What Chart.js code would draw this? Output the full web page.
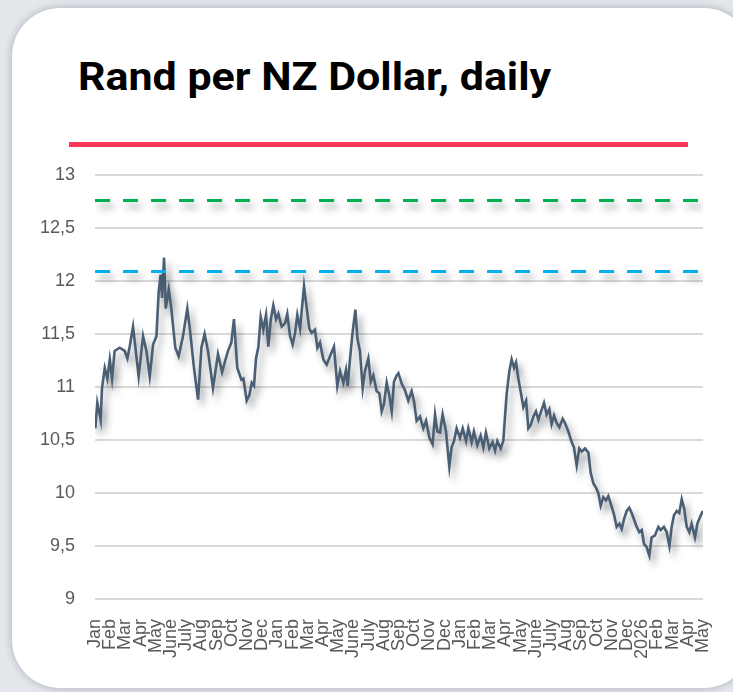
<!DOCTYPE html>
<html>
<head>
<meta charset="utf-8">
<script src="https://cdn.jsdelivr.net/npm/chart.js@4"></script>
<style>
  html, body { margin: 0; padding: 0; }
  body {
    width: 733px; height: 692px; overflow: hidden; position: relative;
    background: #e4e7eb;
    font-family: "Liberation Sans", Arial, sans-serif;
  }
  .card {
    position: absolute; left: 12px; top: 8px; width: 740px; height: 680px;
    background: #fff; border-radius: 48px;
    box-shadow: 0 0 9px rgba(60, 70, 85, 0.35);
  }
  .title {
    position: absolute; left: 78px; top: 55px;
    font-family: Roboto, "Liberation Sans", sans-serif; font-weight: 700;
    font-size: 38px; color: #000; white-space: nowrap;
    transform: scaleX(1.13); transform-origin: left top;
  }
  .redline {
    position: absolute; left: 69px; top: 142px; width: 619px; height: 5px;
    background: #ff3558;
  }
  #chart { position: absolute; left: 0; top: 0; }
</style>
</head>
<body>
<div class="card"></div>
<div class="title">Rand per NZ Dollar, daily</div>
<div class="redline"></div>
<canvas id="chart" width="733" height="692"></canvas>
<script>
// ================= Data =================
// x position in months from Jan (first year) = 0, May (last) = 40
const monthTicks = [
  'Jan','Feb','Mar','Apr','May','June','July','Aug','Sep','Oct','Nov','Dec',
  'Jan','Feb','Mar','Apr','May','June','July','Aug','Sep','Oct','Nov','Dec',
  'Jan','Feb','Mar','Apr','May','June','July','Aug','Sep','Oct','Nov','Dec',
  '2026','Feb','Mar','Apr','May'
];

const monthPos = [
  0,0.02,0.15,0.37,0.46,0.64,0.81,0.97,1.12,1.29,
  1.62,1.95,2.13,2.28,2.5,2.68,2.87,3.16,3.38,3.6,
  3.82,4.04,4.19,4.32,4.41,4.54,4.65,4.85,5.02,5.28,
  5.5,5.79,6.07,6.23,6.51,6.78,7,7.21,7.43,7.76,
  8.09,8.36,8.57,8.75,8.97,9.14,9.36,9.63,
  9.76,9.98,10.15,10.31,10.46,10.59,10.75,10.9,11.07,11.25,
  11.4,11.56,11.73,11.91,12.06,12.28,12.5,12.65,12.83,13,
  13.16,13.31,13.49,13.75,13.93,14.1,14.25,14.47,14.63,14.8,
  15.02,15.24,15.46,15.72,15.94,16.12,16.34,16.51,16.62,16.78,
  16.95,17.13,17.26,17.43,17.61,17.76,17.98,18.14,18.31,18.53,
  18.71,18.86,19.01,19.19,19.36,19.52,19.67,19.85,
  19.96,20.18,20.39,20.61,20.83,20.99,21.16,21.38,21.6,21.78,
  22,22.21,22.37,22.52,22.7,22.87,23.09,23.31,23.46,23.62,
  23.79,24.01,24.19,24.41,24.56,24.78,24.93,25.15,25.37,25.55,
  25.72,25.94,26.16,26.32,26.47,26.69,26.86,26.97,27.08,27.26,
  27.41,27.57,27.7,27.85,28,28.18,28.36,28.51,28.66,28.84,
  29.01,29.17,
  29.28,29.54,29.71,29.89,30.04,30.2,30.37,30.55,30.77,30.92,
  31.14,31.36,31.51,31.69,31.86,32.02,32.24,32.46,32.61,32.79,
  32.96,33.11,33.27,33.44,33.62,33.77,33.93,34.14,34.32,34.5,
  34.65,34.8,34.98,35.15,35.31,35.46,35.64,35.81,35.97,36.12,
  36.29,36.47,36.62,36.84,37.06,37.21,37.43,37.61,37.79,37.94,
  38.09,38.27,38.44,38.6,38.75,38.93,39.1,39.25,39.47,39.63,
  39.8,39.98
];

const rates = [
  10.74,10.61,10.85,10.69,10.99,11.18,11.08,11.26,11.08,11.34,
  11.37,11.34,11.27,11.38,11.57,11.34,11.10,11.48,11.34,11.10,
  11.40,11.48,11.90,12.06,11.84,12.22,11.74,11.92,11.74,11.37,
  11.29,11.48,11.74,11.56,11.18,10.88,11.37,11.50,11.34,10.99,
  11.31,11.14,11.25,11.34,11.42,11.64,11.18,11.07,
  11.08,10.87,10.92,11.04,11.01,11.27,11.38,11.66,11.54,11.68,
  11.38,11.63,11.77,11.64,11.69,11.57,11.60,11.69,11.48,11.40,
  11.51,11.68,11.55,11.95,11.74,11.55,11.51,11.54,11.37,11.42,
  11.26,11.21,11.29,11.38,11.01,11.15,11.04,11.16,11.01,11.27,
  11.52,11.73,11.46,11.34,10.99,11.15,11.27,11.05,11.11,10.96,
  10.94,10.77,10.84,11.04,10.92,10.77,11.05,11.11,
  11.13,11.03,10.97,10.87,10.96,10.86,10.68,10.72,10.61,10.68,
  10.52,10.46,10.74,10.58,10.57,10.74,10.58,10.25,10.43,10.49,
  10.61,10.52,10.61,10.49,10.61,10.48,10.58,10.45,10.54,10.43,
  10.57,10.42,10.48,10.40,10.49,10.42,10.49,10.71,10.93,11.15,
  11.26,11.18,11.23,11.08,10.96,10.81,10.87,10.61,10.64,10.72,
  10.77,10.69,
  10.74,10.85,10.74,10.79,10.65,10.73,10.66,10.62,10.70,10.66,
  10.58,10.48,10.43,10.26,10.42,10.39,10.42,10.38,10.19,10.09,
  10.05,10.00,9.88,9.96,9.93,9.97,9.90,9.80,9.68,9.71,
  9.66,9.75,9.83,9.86,9.81,9.75,9.68,9.63,9.65,9.52,
  9.49,9.41,9.58,9.60,9.68,9.65,9.68,9.63,9.50,9.68,
  9.79,9.83,9.81,9.94,9.86,9.68,9.63,9.71,9.58,9.71,
  9.77,9.83
];

const greenLevel = 12.76;
const blueLevel = 12.09;

// ================= Shadow plugin =================
const shadowPlugin = {
  id: 'lineShadow',
  beforeDatasetDraw(chart) {
    const c = chart.ctx;
    c.save();
    c.shadowColor = 'rgba(40, 45, 55, 0.45)';
    c.shadowBlur = 7;
    c.shadowOffsetX = 4;
    c.shadowOffsetY = 6;
  },
  afterDatasetDraw(chart) {
    chart.ctx.restore();
  }
};

const levelLine = (y, color) => ({
  data: [{ x: 0, y }, { x: monthTicks.length - 1, y }],
  borderColor: color,
  borderWidth: 3,
  borderDash: [15, 13],
  pointRadius: 0,
  fill: false
});

const ctx = document.getElementById('chart').getContext('2d');
new Chart(ctx, {
  type: 'line',
  data: {
    datasets: [
      levelLine(greenLevel, '#00b050'),
      levelLine(blueLevel, '#00b0f0'),
      {
        data: monthPos.map((m, i) => ({ x: m, y: rates[i] })),
        borderColor: '#4b5f74',
        borderWidth: 2.6,
        pointRadius: 0,
        tension: 0,
        fill: false
      }
    ]
  },
  options: {
    responsive: false,
    animation: false,
    layout: { padding: { left: 20, right: 30, top: 175, bottom: 21 } },
    plugins: { legend: { display: false }, tooltip: { enabled: false } },
    scales: {
      x: {
        type: 'linear',
        min: 0,
        max: monthTicks.length - 1,
        border: { display: false },
        grid: { display: false },
        afterFit: (scale) => { scale.paddingRight = 0; scale.paddingLeft = 0; },
        ticks: {
          stepSize: 1,
          maxTicksLimit: 60,
          autoSkip: false,
          maxRotation: 90,
          minRotation: 90,
          padding: 12,
          color: '#595959',
          font: { family: '"Liberation Sans", Arial, sans-serif', size: 18 },
          callback: (v) => monthTicks[v] ?? ''
        }
      },
      y: {
        min: 9,
        max: 13,
        border: { display: false },
        grid: { color: '#d9d9d9', lineWidth: 2, drawTicks: false },
        ticks: {
          stepSize: 0.5,
          padding: 20,
          color: '#595959',
          font: { family: '"Liberation Sans", Arial, sans-serif', size: 18 },
          callback: (v) => String(v).replace('.', ',')
        }
      }
    }
  },
  plugins: [shadowPlugin]
});
</script>
</body>
</html>
